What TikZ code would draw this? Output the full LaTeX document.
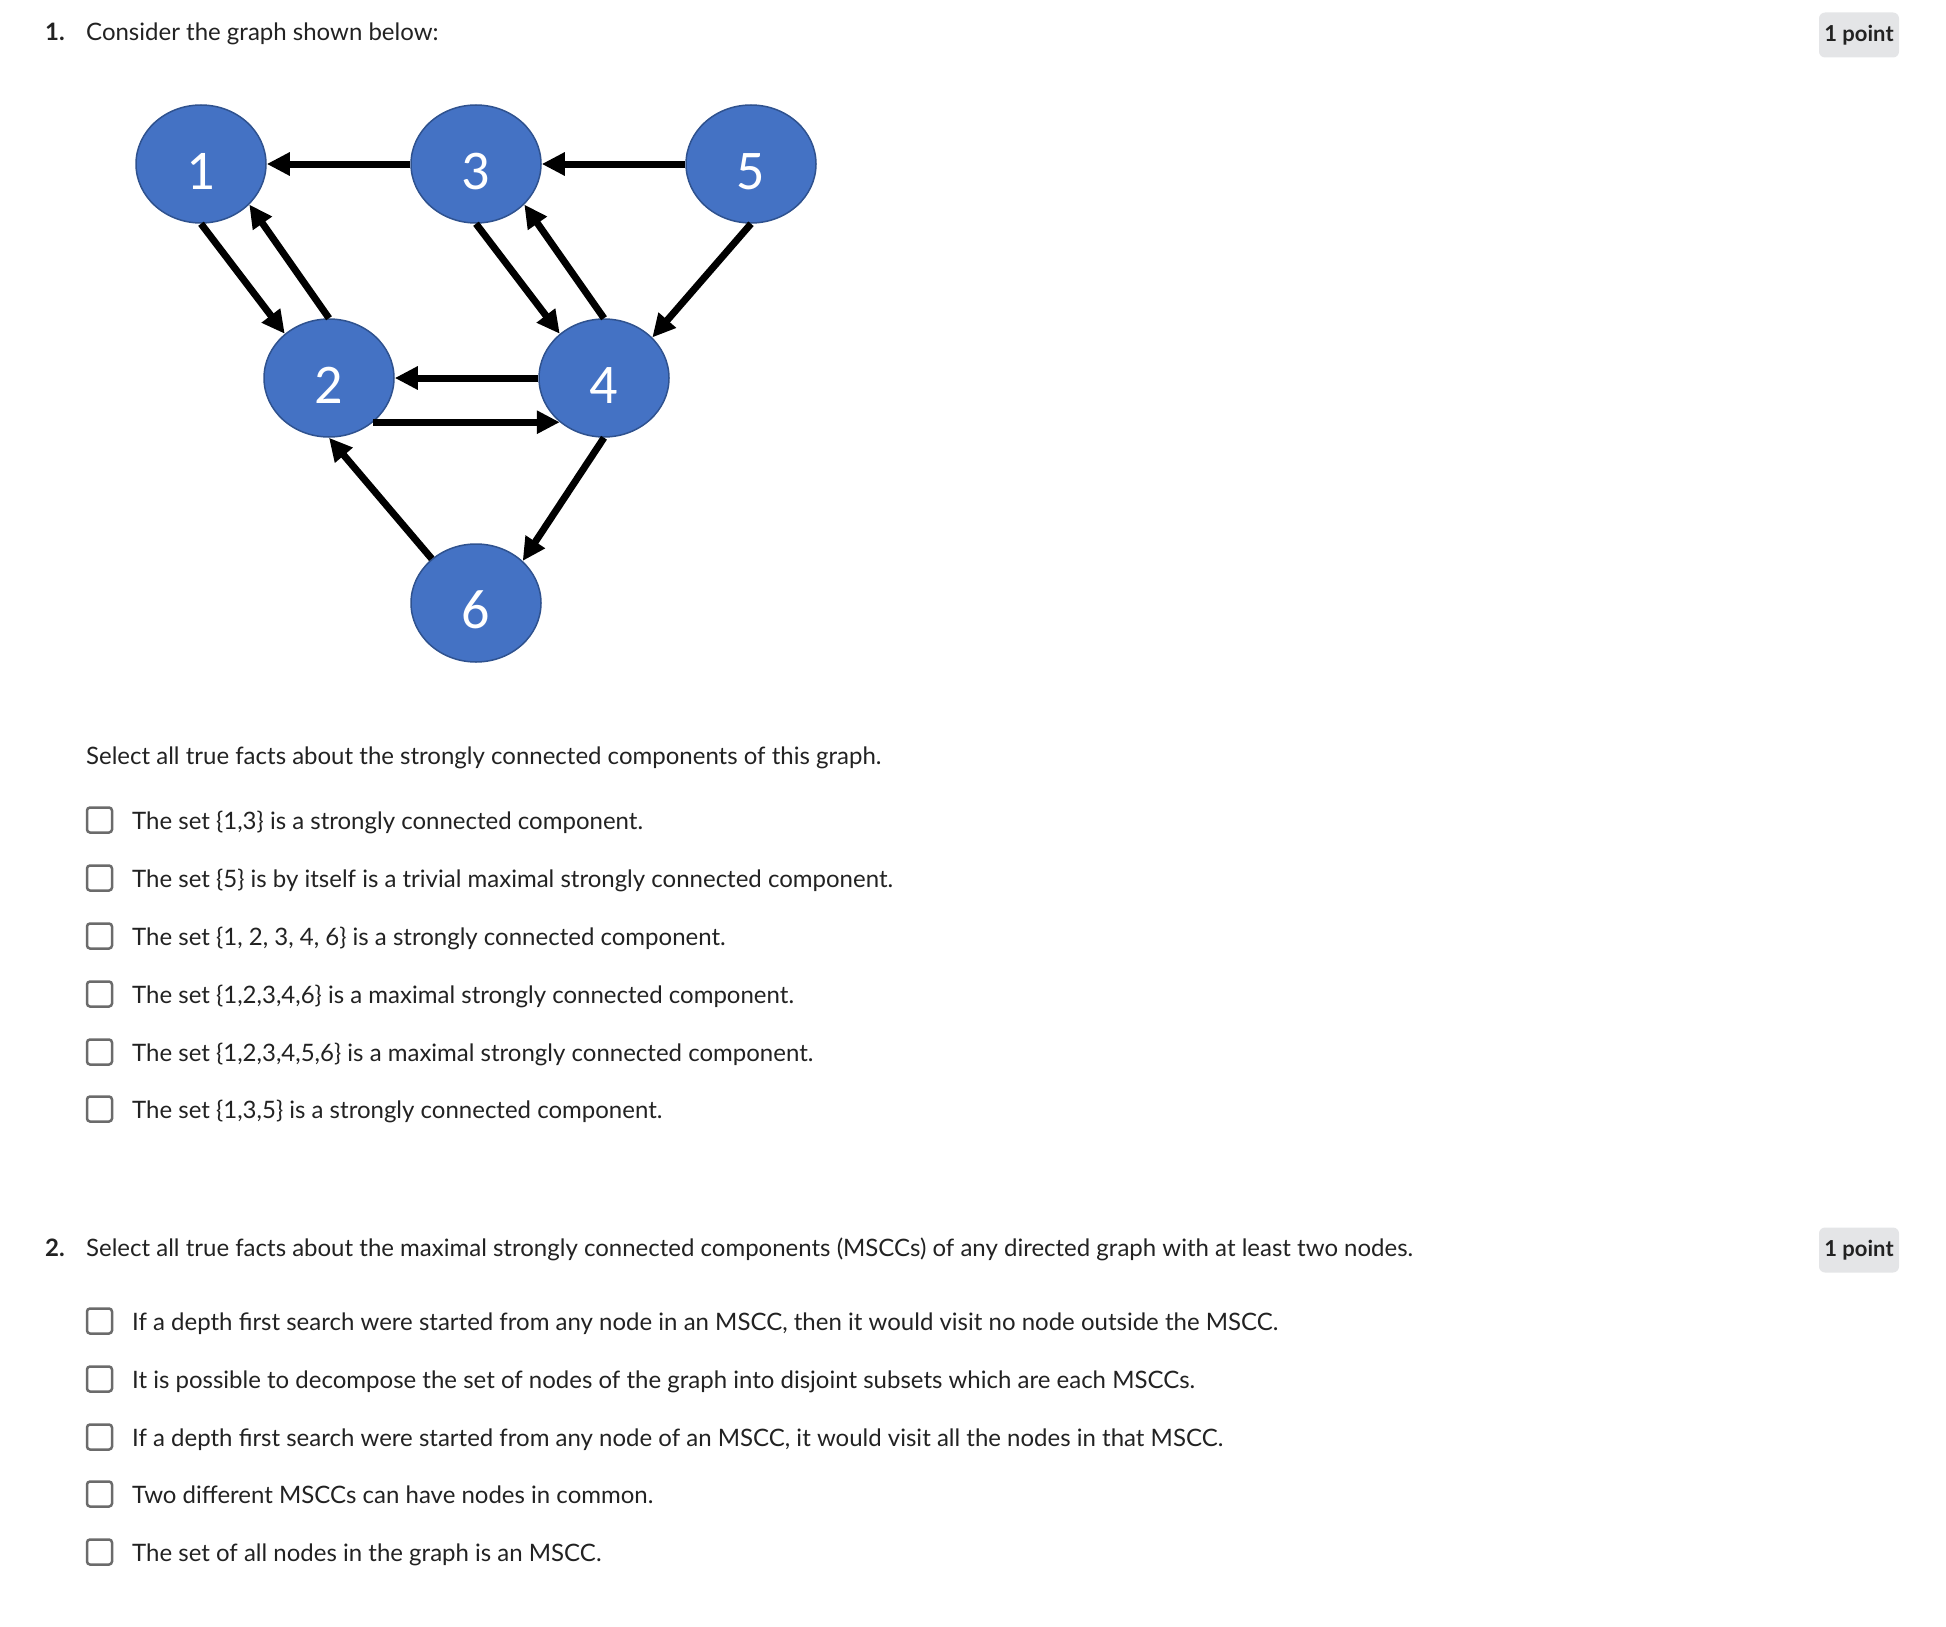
\documentclass[tikz,border=0pt]{standalone}
\usepackage{fontspec}
\setmainfont{Lato}
\newfontfamily\digitfont{Carlito}
\usepackage{xcolor}
\usetikzlibrary{arrows.meta}
\usetikzlibrary{shapes.geometric}
\usetikzlibrary{positioning}
\definecolor{nodeblue}{RGB}{68,114,196}
\definecolor{nodeline}{RGB}{47,82,143}
\definecolor{inktext}{RGB}{34,34,34}
\definecolor{boxgray}{RGB}{107,107,107}
\definecolor{badgegray}{RGB}{228,229,231}

\begin{document}
\begin{tikzpicture}[x=1pt,y=-1pt,
	vertex/.style={ellipse,minimum width=130pt,minimum height=118pt,inner sep=0pt,
		fill=nodeblue,draw=nodeline,line width=1.5pt,text=white,
		font=\digitfont\fontsize{56}{56}\selectfont,text height=51pt,text depth=0pt},
	arc/.style={line width=7pt,-{Triangle[length=23pt,width=22pt]}},
	opt/.style={anchor=base west,inner sep=0pt,text=inktext,font=\fontsize{24}{28}\selectfont},
	qnum/.style={opt,font=\bfseries\fontsize{24}{28}\selectfont},
	chk/.style={draw=boxgray,line width=2.5pt,rounded corners=3pt,minimum size=25pt,inner sep=0pt},
	badge/.style={fill=badgegray,rounded corners=6pt,minimum width=80pt,minimum height=45pt,
		inner sep=0pt,text=inktext,font=\bfseries\fontsize{22}{26}\selectfont}]

	\useasboundingbox (0,0) rectangle (1946,1627);

	% question 1
	\node [qnum] (q1num) at (45,41) {1.};
	\node [opt] (q1text) at (86,41) {Consider the graph shown below:};
	\node [badge] (pts1) at (1859,35) {1 point};

	% the graph
	\node [vertex] (n1) at (201,164) {1};
	\node [vertex] (n3) at (476,164) {3};
	\node [vertex] (n5) at (751,164) {5};
	\node [vertex] (n2) at (329,378) {2};
	\node [vertex] (n4) at (604,378) {4};
	\node [vertex] (n6) at (476,603) {6};

	\draw[arc] (n3.west)--(n1.east);
	\draw[arc] (n5.west)--(n3.east);
	\draw[arc] (n1.south)--(n2.135);
	\draw[arc] (n2.north)--(n1.-40);
	\draw[arc] (n3.south)--(n4.135);
	\draw[arc] (n4.north)--(n3.-40);
	\draw[arc] (n5.south)--(n4.40);
	\draw[arc] (n4.west)--(n2.east);
	\draw[arc] (n2.-45)--(n4.-135);
	\draw[arc] (n6.135)--(n2.south);
	\draw[arc] (n4.south)--(n6.42);

	\node [opt] (q1ask) at (86,764) {Select all true facts about the strongly connected components of this graph.};

	\foreach \yy/\txt [count=\i] in {
		820/{The set \{1,3\} is a strongly connected component.},
		878/{The set \{5\} is by itself is a trivial maximal strongly connected component.},
		936/{The set \{1, 2, 3, 4, 6\} is a strongly connected component.},
		994/{The set \{1,2,3,4,6\} is a maximal strongly connected component.},
		1052/{The set \{1,2,3,4,5,6\} is a maximal strongly connected component.},
		1109/{The set \{1,3,5\} is a strongly connected component.}}
	{
		\node [chk] (boxa\i) at (99.5,\yy) {};
		\node [opt] (opta\i) at (132,\yy+9) {\txt};
	}

	% question 2
	\node [qnum] (q2num) at (45,1256) {2.};
	\node [opt] (q2text) at (86,1256) {Select all true facts about the maximal strongly connected components (MSCCs) of any directed graph with at least two nodes.};
	\node [badge] (pts2) at (1859,1250) {1 point};

	\foreach \yy/\txt [count=\i] in {
		1321/{If a depth first search were started from any node in an MSCC, then it would visit no node outside the MSCC.},
		1379/{It is possible to decompose the set of nodes of the graph into disjoint subsets which are each MSCCs.},
		1437/{If a depth first search were started from any node of an MSCC, it would visit all the nodes in that MSCC.},
		1494/{Two different MSCCs can have nodes in common.},
		1552/{The set of all nodes in the graph is an MSCC.}}
	{
		\node [chk] (boxb\i) at (99.5,\yy) {};
		\node [opt] (optb\i) at (132,\yy+9) {\txt};
	}
\end{tikzpicture}
\end{document}
